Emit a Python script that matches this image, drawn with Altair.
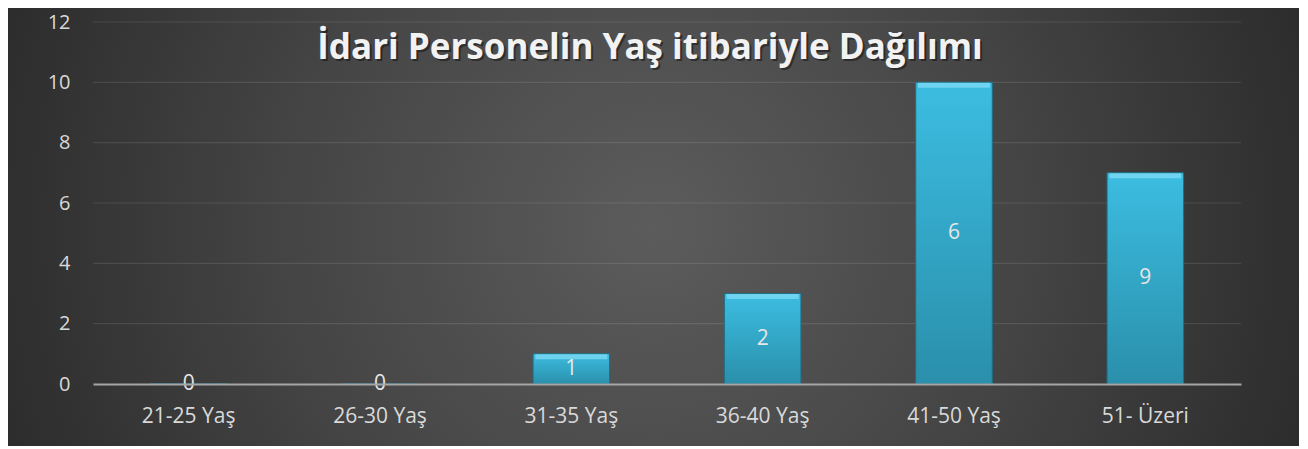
import altair as alt
import pandas as pd

categories = ["21-25 Yaş", "26-30 Yaş", "31-35 Yaş", "36-40 Yaş", "41-50 Yaş", "51- Üzeri"]
bar_heights = [0, 0, 1, 3, 10, 7]
bar_labels = ["0", "0", "1", "2", "6", "9"]
y_ticks = [0, 2, 4, 6, 8, 10, 12]
title_text = "İdari Personelin Yaş itibariyle Dağılımı"

W, H = 1148, 362
PAD = {"left": 85, "top": 14, "right": 58, "bottom": 62}
FONT = "Open Sans"

df = pd.DataFrame({"cat": categories, "v": bar_heights, "lab": bar_labels})
df["mid"] = df["v"] / 2
grid_df = pd.DataFrame({"g": [t for t in y_ticks if t > 0]})
one = pd.DataFrame({"t": [title_text]})

yscale = alt.Scale(domain=[0, 12], nice=False, zero=True)
xscale = alt.Scale(paddingInner=0.6, paddingOuter=0.3)
xaxis = alt.Axis(labelAngle=0, labelColor="#d9d9d9", labelFontSize=21,
                 labelFont=FONT, labelPadding=21, ticks=False, title=None,
                 domainColor="#a6a6a6", domainWidth=2, zindex=1, grid=False)
yaxis = alt.Axis(values=y_ticks, labelColor="#d9d9d9", labelFontSize=20, title=None,
                 labelFont=FONT, labelPadding=23, ticks=False, domain=False,
                 grid=False, zindex=1)


def X():
    return alt.X("cat:N", sort=categories, scale=xscale, axis=xaxis, title=None)


def Y(field):
    return alt.Y(field, scale=yscale, axis=yaxis, title=None)


bg = alt.Chart(one).mark_rect(
    fill=alt.Gradient(gradient="radial",
                      stops=[alt.GradientStop(color="#5c5c5c", offset=0),
                             alt.GradientStop(color="#444444", offset=0.5),
                             alt.GradientStop(color="#272727", offset=1)],
                      x1=0.5, y1=0.5, r1=0, x2=0.5, y2=0.5, r2=0.58)
).encode(x=alt.value(-PAD["left"]), x2=alt.value(W + PAD["right"]),
         y=alt.value(-PAD["top"]), y2=alt.value(H + PAD["bottom"]))

grid = alt.Chart(grid_df).mark_rule(color="#ffffff", opacity=0.1, strokeWidth=1.2).encode(
    y=Y("g:Q"))

bars = alt.Chart(df).mark_bar(
    fill=alt.Gradient(gradient="linear",
                      stops=[alt.GradientStop(color="#3cbde1", offset=0),
                             alt.GradientStop(color="#2a8fab", offset=1)],
                      x1=0, y1=0, x2=0, y2=1),
    stroke="#1f6f86", strokeWidth=1
).encode(x=X(), y=Y("v:Q"))

bevel = alt.Chart(df).transform_filter("datum.v > 0").mark_tick(
    color="#74d6f1", thickness=5, size=72, yOffset=3, opacity=0.9
).encode(x=X(), y=Y("v:Q"))

labels = alt.Chart(df).mark_text(color="#e6e6e6", fontSize=21, font=FONT,
                                 baseline="middle").encode(
    x=X(), y=Y("mid:Q"), text="lab:N")

TS = 35
tshadow = alt.Chart(one).mark_text(color="#000000", opacity=0.4, fontSize=TS, font=FONT,
                                   fontWeight="bold", baseline="alphabetic",
                                   align="center", dx=2, dy=2).encode(
    x=alt.value(557), y=alt.value(37), text="t:N")
title = alt.Chart(one).mark_text(color="#f2f2f2", fontSize=TS, font=FONT,
                                 fontWeight="bold", baseline="alphabetic",
                                 align="center").encode(
    x=alt.value(557), y=alt.value(37), text="t:N")

chart = alt.layer(bg, grid, bars, bevel, labels, tshadow, title).properties(
    width=W, height=H, padding=PAD,
    autosize=alt.AutoSizeParams(type="none")
).configure(background="#2a2a2a").configure_view(stroke=None)

chart.save("out.html", embed_options={"renderer": "svg", "actions": False})
